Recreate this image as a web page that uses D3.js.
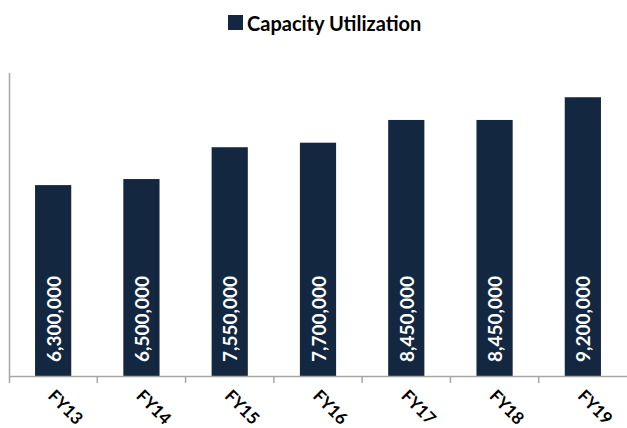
<!DOCTYPE html>
<html><head><meta charset="utf-8">
<script src="https://cdn.jsdelivr.net/npm/d3@7"></script>
<style>body{margin:0;background:#fff}svg{display:block}</style>
</head><body>
<svg id="c" width="627" height="428"></svg>
<script>
const categories = ["FY13","FY14","FY15","FY16","FY17","FY18","FY19"];
const values = [6300000,6500000,7550000,7700000,8450000,8450000,9200000];
const seriesName = "Capacity Utilization";

(function(){
const svg = d3.select("#c");
const mLeft = 9, mRight = 627, mTop = 73, mBottom = 376;
const barColor = "#132741", axisColor = "#a6a6a6";

const x = d3.scaleBand().domain(categories).range([mLeft, mRight]).paddingInner(0.59).paddingOuter(0.295);
const y = d3.scaleLinear().domain([0, 10000000]).range([mBottom, mTop]);

svg.append("g").selectAll("rect").data(values).join("rect")
  .attr("x", (d,i) => x(categories[i]))
  .attr("y", d => y(d))
  .attr("width", x.bandwidth())
  .attr("height", d => y(0) - y(d))
  .attr("fill", barColor);

svg.append("line").attr("x1", mLeft + 0.5).attr("x2", mLeft + 0.5).attr("y1", mTop).attr("y2", mBottom + 7)
  .attr("stroke", axisColor).attr("stroke-width", 1.5);

const step = x.step();
const xb = svg.append("g");
xb.append("line").attr("x1", mLeft).attr("x2", mRight).attr("y1", mBottom + 0.5).attr("y2", mBottom + 0.5)
  .attr("stroke", axisColor).attr("stroke-width", 1.5);
const bounds = d3.range(categories.length).map(i => mLeft + step * (i + 1));
xb.selectAll("line.t").data(bounds.slice(0, -1)).join("line").attr("class","t")
  .attr("x1", d => d).attr("x2", d => d).attr("y1", mBottom).attr("y2", mBottom + 7)
  .attr("stroke", axisColor).attr("stroke-width", 1.5);

svg.append("g").selectAll("text").data(categories).join("text")
  .attr("transform", d => `translate(${x(d) + x.bandwidth()/2 - 3},${mBottom + 18}) rotate(45)`)
  .attr("text-anchor", "start").attr("dominant-baseline", "middle")
  .attr("font-family", "Lato, 'Open Sans', sans-serif").attr("font-weight", "bold")
  .attr("font-size", 17).attr("fill", "#000").text(d => d);

svg.append("g").selectAll("text").data(values).join("text")
  .attr("transform", (d,i) => `translate(${x(categories[i]) + x.bandwidth()/2},${mBottom - 14}) rotate(-90)`)
  .attr("text-anchor", "start").attr("dominant-baseline", "central")
  .attr("font-family", "Lato, 'Open Sans', sans-serif").attr("font-weight", "bold")
  .attr("font-size", 19).attr("fill", "#fff").text(d => d3.format(",")(d));

const lg = svg.append("g");
lg.append("rect").attr("x", 228).attr("y", 15).attr("width", 15).attr("height", 15).attr("fill", barColor);
lg.append("text").attr("x", 247).attr("y", 22.5).attr("dominant-baseline", "central")
  .attr("font-family", "Lato, 'Open Sans', sans-serif").attr("font-weight", "bold")
  .attr("font-size", 20).attr("fill", "#000").text(seriesName);
})();
</script>
</body></html>
